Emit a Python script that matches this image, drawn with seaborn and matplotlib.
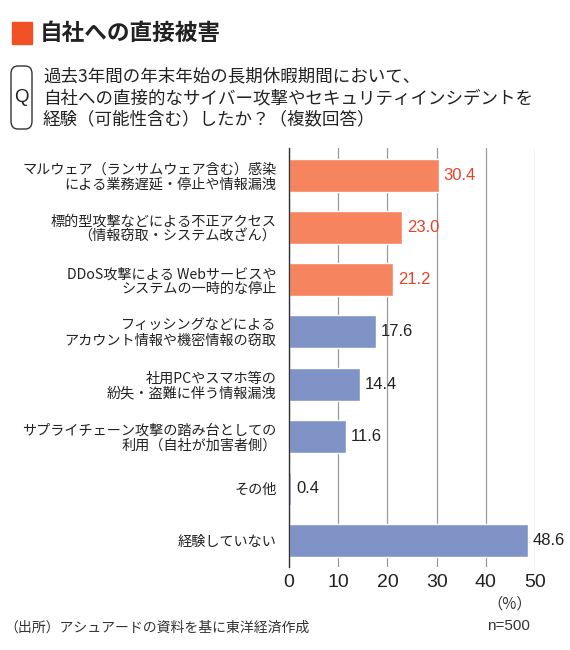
import matplotlib.pyplot as plt
import seaborn as sns
import pandas as pd
from matplotlib.patches import FancyBboxPatch, Rectangle

labels = [
    "マルウェア（ランサムウェア含む）感染\nによる業務遅延・停止や情報漏洩",
    "標的型攻撃などによる不正アクセス\n（情報窃取・システム改ざん）",
    "DDoS攻撃による Webサービスや\nシステムの一時的な停止",
    "フィッシングなどによる\nアカウント情報や機密情報の窃取",
    "社用PCやスマホ等の\n紛失・盗難に伴う情報漏洩",
    "サプライチェーン攻撃の踏み台としての\n利用（自社が加害者側）",
    "その他",
    "経験していない",
]
values = [30.4, 23.0, 21.2, 17.6, 14.4, 11.6, 0.4, 48.6]
highlight = [True, True, True, False, False, False, False, False]

orange = "#F5845F"
blue = "#7F93C6"
orange_txt = "#E5432A"

sns.set_theme(style="white")
plt.rcParams['font.family'] = ['Noto Sans CJK JP', 'DejaVu Sans']

df = pd.DataFrame({"label": labels, "value": values})
colors = [orange if h else blue for h in highlight]

fig = plt.figure(figsize=(5.7, 6.5), dpi=100)
fig.patch.set_facecolor("white")

# axes placed in pixel terms
W, H = 570, 650
x0, x1 = 289, 535
y_top, y_bot = 148, 567
ax = fig.add_axes([x0 / W, (H - y_bot) / H, (x1 - x0) / W, (y_bot - y_top) / H])

sns.barplot(data=df, x="value", y="label", hue="label", palette=colors,
            legend=False, width=0.63, ax=ax, saturation=1)

ax.set_xlim(0, 50)
ax.set_ylim(7.5, -0.52)
ax.set_xticks(range(0, 51, 10))
ax.xaxis.grid(True, color="#9a9a9a", linewidth=0.9)
ax.set_axisbelow(True)
for s in ["top", "right", "bottom"]:
    ax.spines[s].set_visible(False)
ax.spines["left"].set_color("#333333")
ax.spines["left"].set_linewidth(1.0)
ax.tick_params(axis="x", length=0, labelsize=14, colors="#222222", pad=5)
ax.tick_params(axis="y", length=0, labelsize=10.2, colors="#222222", pad=9)
ax.set_xlabel("")
ax.set_ylabel("")
for t in ax.get_xticklabels():
    t.set_family(["Liberation Sans", "DejaVu Sans"])
for t in ax.get_yticklabels():
    t.set_linespacing(1.05)

for i, (v, h) in enumerate(zip(values, highlight)):
    ax.text(v + 1.0, i, f"{v:.1f}", va="center", ha="left", fontsize=12,
            color=orange_txt if h else "#222222", family=["Liberation Sans", "DejaVu Sans"])

# title block
fig.patches.append(Rectangle((12 / W, 1 - 44 / H), 20 / W, 22 / H,
                             transform=fig.transFigure, color="#F05023"))
fig.text(40 / W, 1 - 33 / H, "自社への直接被害", fontsize=16.3, fontweight="bold",
         va="center", ha="left", color="#222222")

# question box
fig.patches.append(FancyBboxPatch((11 / W, 1 - 129 / H), 21 / W, 63 / H,
                                  boxstyle="round,pad=0,rounding_size=0.012",
                                  transform=fig.transFigure, facecolor="white",
                                  edgecolor="#333333", linewidth=1.0))
fig.text(21.5 / W, 1 - 98 / H, "Q", fontsize=13.5, va="center", ha="center", color="#222222",
         family=["Liberation Sans", "DejaVu Sans"])
fig.text(43 / W, 1 - 98 / H,
         "過去3年間の年末年始の長期休暇期間において、\n自社への直接的なサイバー攻撃やセキュリティインシデントを\n経験（可能性含む）したか？（複数回答）",
         fontsize=12.6, va="center", ha="left", color="#222222", linespacing=1.25)

fig.text(510 / W, 1 - 604 / H, "（%）", fontsize=11, ha="center", va="center", color="#333333")
fig.text(508 / W, 1 - 626 / H, "n=500", fontsize=11, ha="center", va="center", color="#333333",
         family=["Liberation Sans", "DejaVu Sans"])
fig.text(4 / W, 1 - 628 / H, "（出所）アシュアードの資料を基に東洋経済作成", fontsize=10,
         ha="left", va="center", color="#333333")

fig.savefig("out.png", dpi=100)
